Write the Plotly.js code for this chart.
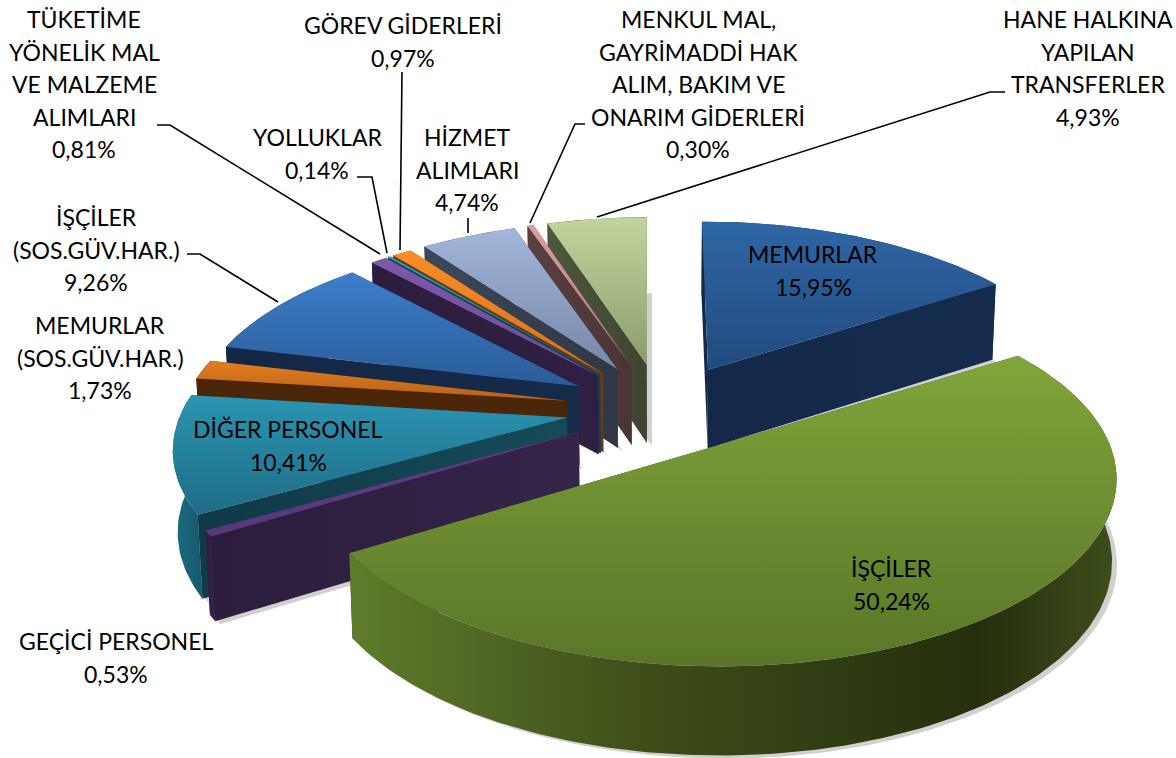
<!DOCTYPE html>
<html><head><meta charset="utf-8">
<script src="https://cdn.plot.ly/plotly-3.0.1.min.js"></script>
<style>html,body{margin:0;padding:0;background:#fff}#c{width:1176px;height:758px}</style>
</head><body><div id="c"></div>
<script>
const categories=["MEMURLAR","İŞÇİLER","GEÇİCİ PERSONEL","DİĞER PERSONEL","MEMURLAR\n(SOS.GÜV.HAR.)","İŞÇİLER\n(SOS.GÜV.HAR.)","TÜKETİME\nYÖNELİK MAL\nVE MALZEME\nALIMLARI","YOLLUKLAR","GÖREV GİDERLERİ","HİZMET\nALIMLARI","MENKUL MAL,\nGAYRİMADDİ HAK\nALIM, BAKIM VE\nONARIM GİDERLERİ","HANE HALKINA\nYAPILAN\nTRANSFERLER"];
const values=[15.95,50.24,0.53,10.41,1.73,9.26,0.81,0.14,0.97,4.74,0.30,4.93];
const topColors=[["#2f66a6","#214b7e"],["#80a63a","#5a7528"],["#5d3f83","#55397a"],["#2b95b2","#1f6c85"],["#e47e1e","#b4621a"],["#3d7ecb","#2a5c98"],["#7c59aa","#6c4d96"],["#2aa6c2","#1f7f95"],["#fc8d28","#d0731f"],["#a2b6dc","#7688a6"],["#dca09e","#a87472"],["#c2d59e","#8b9c6a"]];
const wallColors=[["#14294a","#152c4c"],["#2a370f","#3a4a18"],["#2b1d3b","#35254a"],["#0f3a46","#164a57"],["#4a2508","#4c2609"],["#132845","#142b49"],["#2c1d3e","#2f1f42"],["#0f4250","#0f4250"],["#6a3a0f","#6a3a0f"],["#3c4859","#2f3745"],["#5a4040","#4a3535"],["#4d583c","#3d4530"]];
const arcWallColors=[["#14294a","#152c4c"],[["#5f7c2c",0],["#3d4c18",0.4],["#252f0d",0.82],["#3e4e1b",1]],["#2b1d3b","#35254a"],["#1d6d85","#17576b"],["#4a2508","#4c2609"],["#132845","#142b49"],["#2c1d3e","#2f1f42"],["#0f4250","#0f4250"],["#6a3a0f","#6a3a0f"],["#3c4859","#2f3745"],["#5a4040","#4a3535"],["#4d583c","#3d4530"]];
// label placement: centre x and y of the first line, for each category
const labelX=[813,891,116,288,100,96,84,317,403,467,698,1088];
const labelY=[254,568,641,429,325,217,19,137,25,137,19,19];
const lineStep=32.5, fontSize=23;
// leader lines [[x...],[y...]]
const leaders=[
 [[157,170,380],[125,125,254]],
 [[357,372,387],[177,177,253]],
 [[402,400],[72,250]],
 [[468,468],[218,233]],
 [[585,575,530],[124,124,223]],
 [[1005,990,597],[92,92,217]],
 [[187,200,278],[254,254,302]]
];
// projection of the tilted, exploded pie
const cx=661.7, cy=409, Ex=96.5, Ey=44.7, a=385, b=177, k=0.16, kx=0.15, ev=0.25, depth=80, shrink=0.99, lean=0.8, rot=-0.25*Math.PI/180;
const total=values.reduce((s,v)=>s+v,0);
let acc=0;
const slices=values.map((v,i)=>{const t0=acc/total*2*Math.PI;acc+=v;const t1=acc/total*2*Math.PI;
  return {i,t0,t1,m:(t0+t1)/2};});
function pt(sl,t,rad){
  const mu=Math.sin(sl.m), mv=-Math.cos(sl.m);
  const u=Math.sin(t+rot)*rad, w=-Math.cos(t+rot)*rad;
  const V=w+ev*mv;
  const s=1/(1-k*V), sx=1/(1-kx*V), sA=1/(1-kx*ev*mv);
  const x=cx+Ex*mu*(1+lean*(sx/sA-1))+a*u*sx, y=cy+Ey*mv+b*w*s;
  const d=depth*Math.sqrt(s);
  return {x,y,bx:cx+(x-cx)*shrink,by:y+d};
}
function arc(sl){const n=Math.max(2,Math.ceil((sl.t1-sl.t0)/(Math.PI/180)));const r=[];
  for(let j=0;j<=n;j++)r.push(pt(sl,sl.t0+(sl.t1-sl.t0)*j/n,1));return r;}
function scale(c){return Array.isArray(c[0])?c.map(e=>[e[1],e[0]]):[[0,c[0]],[1,c[1]]];}
const traces=[];
function poly(xs,ys,c,type,start,stop){
  const fg={type:type,colorscale:scale(c)};
  if(start!==undefined){fg.start=start;fg.stop=stop;}
  traces.push({type:'scatter',mode:'lines',x:xs.concat(xs[0]),y:ys.concat(ys[0]),fill:'toself',fillgradient:fg,
    line:{width:0,color:'rgba(0,0,0,0)'},hoverinfo:'skip',showlegend:false});
}
const order=slices.slice().sort((p,q)=>(-Math.cos(p.m))-(-Math.cos(q.m)));
order.forEach(sl=>{
  const A=pt(sl,0,0), ar=arc(sl);
  const last=ar[ar.length-1], first=ar[0];
  const W=wallColors[sl.i];
  const walls=[
    {p:[A,first],c:W},
    {p:[A,last],c:W},
    {p:ar,c:arcWallColors[sl.i]}
  ];
  walls.sort((p,q)=>{const f=o=>o.p.reduce((s,e)=>s+e.y,0)/o.p.length;return f(p)-f(q);});
  // soft grey shadow just outside the side walls
  const sx=ar.map(e=>e.bx+5), sy=ar.map(e=>e.by+3);
  traces.push({type:'scatter',mode:'lines',x:[A.bx+5].concat(sx,[A.bx+5]),y:[A.by+3].concat(sy,[A.by+3]),fill:'toself',fillcolor:'rgba(120,120,120,0.35)',line:{width:0,color:'rgba(0,0,0,0)'},hoverinfo:'skip',showlegend:false});
  walls.forEach(o=>{
    const xs=o.p.map(e=>e.x).concat(o.p.map(e=>e.bx).reverse());
    const ys=o.p.map(e=>e.y).concat(o.p.map(e=>e.by).reverse());
    poly(xs,ys,o.c,'horizontal');
  });
  const tx=[A.x].concat(ar.map(e=>e.x)), ty=[A.y].concat(ar.map(e=>e.y));
  poly(tx,ty,topColors[sl.i],'vertical',Math.min(...ty),Math.max(...ty));
});
leaders.forEach(l=>traces.push({type:'scatter',mode:'lines',x:l[0],y:l[1],line:{color:'#000',width:1.6},hoverinfo:'skip',showlegend:false}));
const annotations=[];
categories.forEach((c,i)=>{
  const lines=c.split("\n").concat(values[i].toFixed(2).replace('.',',')+'%');
  lines.forEach((t,j)=>annotations.push({x:labelX[i],y:labelY[i]+j*lineStep,xref:'x',yref:'y',text:t,showarrow:false,xanchor:'center',yanchor:'middle',font:{family:'Lato, "Open Sans", sans-serif',size:fontSize,color:'#000'}}));
});
Plotly.newPlot('c',traces,{width:1176,height:758,margin:{l:0,r:0,t:0,b:0},paper_bgcolor:'#fff',plot_bgcolor:'#fff',showlegend:false,
  xaxis:{range:[0,1176],visible:false,fixedrange:true},
  yaxis:{range:[758,0],visible:false,fixedrange:true},
  annotations},{displayModeBar:false,staticPlot:true});
</script></body></html>
